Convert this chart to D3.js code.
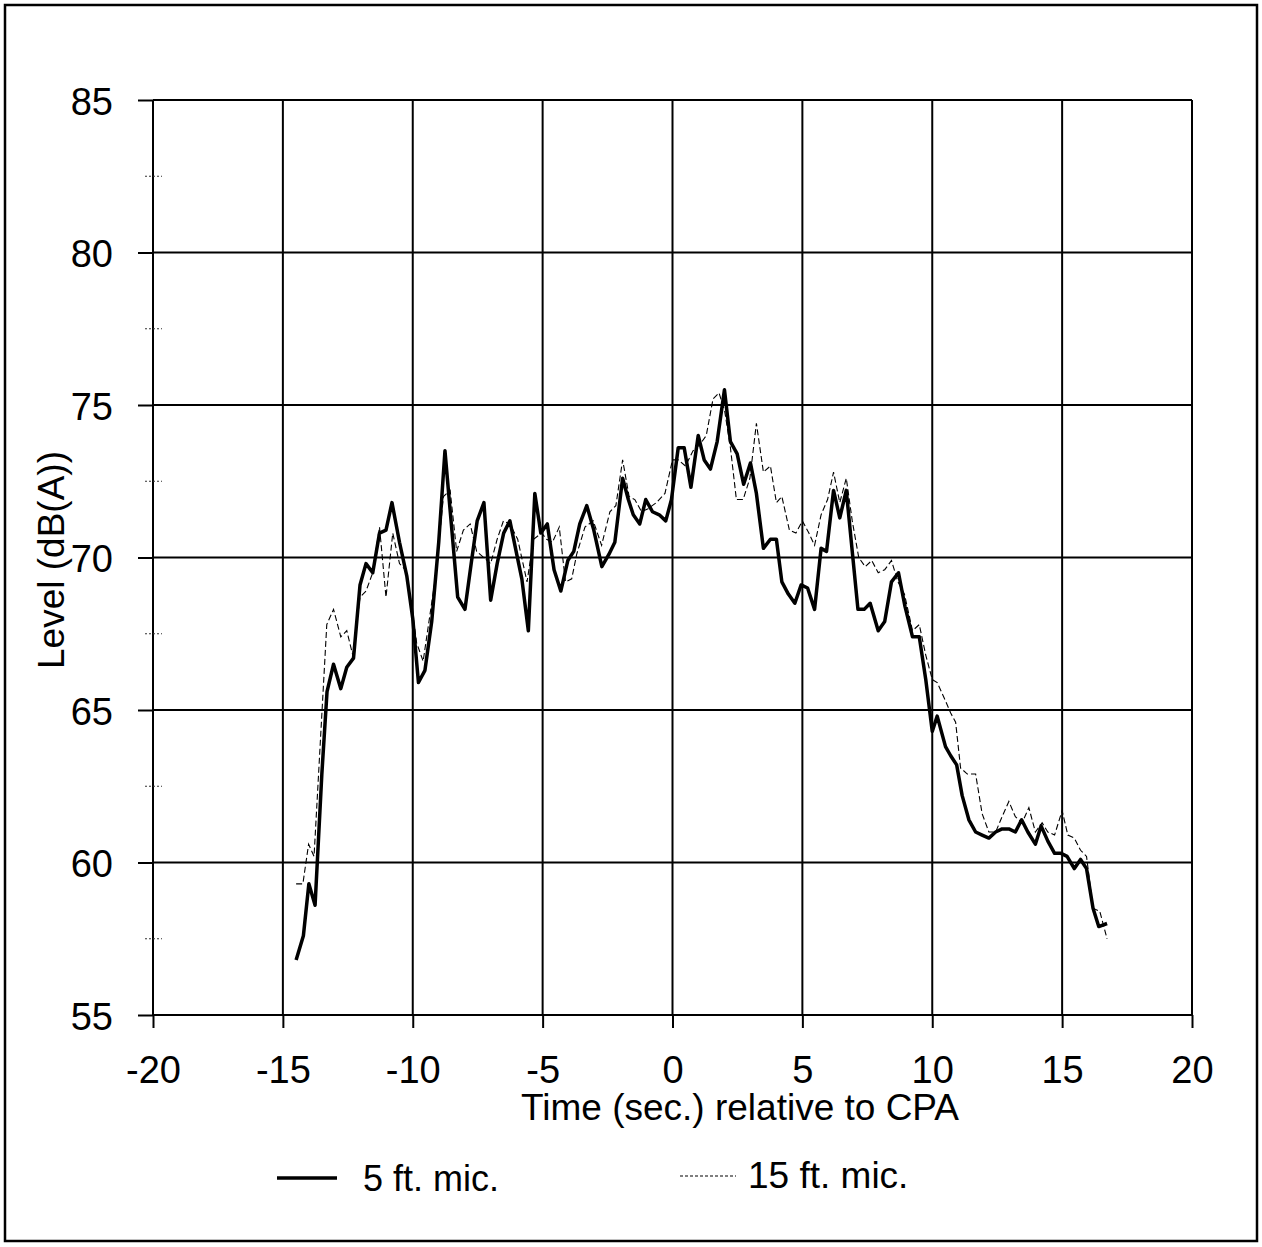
<!DOCTYPE html>
<html>
<head>
<meta charset="utf-8">
<script src="https://cdn.jsdelivr.net/npm/d3@7"></script>
<style>
    body { margin: 0; background: #fff; }
    text { font-family: "Liberation Sans", Arial, sans-serif; fill: #000; }
</style>
</head>
<body>
<script>
// 5 ft. mic. (solid)
const time5 = [-14.49, -14.21, -14.0, -13.76, -13.5, -13.3, -13.05, -12.77, -12.54, -12.28,
    -12.03, -11.8, -11.54, -11.28, -11.03, -10.8, -10.51, -10.23, -10.0, -9.78,
    -9.53, -9.27, -9.0, -8.76, -8.27, -7.99, -7.75, -7.52, -7.26, -7.0,
    -6.75, -6.5, -6.26, -6.02, -5.8, -5.55, -5.3, -5.07, -4.82, -4.56,
    -4.3, -4.03, -3.8, -3.57, -3.3, -3.03, -2.72, -2.45, -2.22, -1.92,
    -1.7, -1.51, -1.26, -1.03, -0.77, -0.51, -0.26, -0.04, 0.22, 0.45,
    0.71, 0.99, 1.22, 1.46, 1.72, 2.0, 2.23, 2.49, 2.74, 3.0,
    3.23, 3.5, 3.77, 4.0, 4.21, 4.46, 4.71, 4.95, 5.2, 5.47,
    5.72, 5.93, 6.2, 6.44, 6.69, 6.92, 7.14, 7.38, 7.61, 7.92,
    8.17, 8.43, 8.7, 8.95, 9.24, 9.5, 9.75, 10.0, 10.19, 10.51,
    10.71, 10.94, 11.15, 11.41, 11.67, 11.92, 12.18, 12.44, 12.69, 12.95,
    13.2, 13.44, 13.68, 13.97, 14.19, 14.45, 14.71, 14.96, 15.19, 15.47,
    15.71, 15.94, 16.19, 16.41, 16.73];
const level5 = [56.8, 57.6, 59.3, 58.6, 62.9, 65.6, 66.5, 65.7, 66.4, 66.7,
    69.1, 69.8, 69.5, 70.8, 70.9, 71.8, 70.5, 69.4, 68.0, 65.9,
    66.3, 67.9, 70.5, 73.5, 68.7, 68.3, 69.8, 71.2, 71.8, 68.6,
    69.8, 70.8, 71.2, 70.2, 69.3, 67.6, 72.1, 70.8, 71.1, 69.6,
    68.9, 69.9, 70.2, 71.1, 71.7, 70.9, 69.7, 70.1, 70.5, 72.6,
    71.9, 71.4, 71.1, 71.9, 71.5, 71.4, 71.2, 71.9, 73.6, 73.6,
    72.3, 74.0, 73.2, 72.9, 73.8, 75.5, 73.8, 73.4, 72.4, 73.1,
    72.1, 70.3, 70.6, 70.6, 69.2, 68.8, 68.5, 69.1, 69.0, 68.3,
    70.3, 70.2, 72.2, 71.3, 72.2, 70.2, 68.3, 68.3, 68.5, 67.6,
    67.9, 69.2, 69.5, 68.4, 67.4, 67.4, 66.0, 64.3, 64.8, 63.8,
    63.5, 63.2, 62.2, 61.4, 61.0, 60.9, 60.8, 61.0, 61.1, 61.1,
    61.0, 61.4, 61.0, 60.6, 61.2, 60.7, 60.3, 60.3, 60.2, 59.8,
    60.1, 59.8, 58.5, 57.9, 58.0];

// 15 ft. mic. (dashed)
const time15 = [-14.49, -14.23, -14.01, -13.8, -13.31, -13.05, -12.77, -12.54, -12.31, -12.03,
    -11.8, -11.54, -11.28, -11.03, -10.77, -10.51, -10.29, -10.05, -9.85, -9.6,
    -9.1, -8.82, -8.56, -8.31, -8.05, -7.79, -7.54, -7.27, -7.0, -6.75,
    -6.51, -6.26, -5.96, -5.6, -5.35, -5.04, -4.85, -4.62, -4.36, -4.12,
    -3.88, -3.69, -3.37, -3.05, -2.73, -2.41, -2.18, -1.92, -1.67, -1.45,
    -1.19, -0.94, -0.62, -0.29, 0.0, 0.22, 0.5, 0.79, 1.05, 1.3,
    1.56, 1.79, 2.01, 2.23, 2.46, 2.72, 2.98, 3.23, 3.5, 3.77,
    4.0, 4.21, 4.5, 4.75, 5.0, 5.25, 5.47, 5.72, 5.97, 6.2,
    6.44, 6.69, 6.92, 7.17, 7.42, 7.67, 7.92, 8.17, 8.43, 8.68,
    8.93, 9.24, 9.5, 9.75, 10.0, 10.19, 10.51, 10.71, 10.9, 11.09,
    11.35, 11.67, 11.92, 12.18, 12.44, 12.69, 12.95, 13.2, 13.46, 13.72,
    13.97, 14.23, 14.45, 14.71, 15.0, 15.22, 15.47, 15.71, 15.94, 16.19,
    16.45, 16.73];
const level15 = [59.3, 59.3, 60.6, 60.2, 67.8, 68.3, 67.4, 67.6, 66.8, 68.7,
    68.9, 69.5, 71.0, 68.7, 70.8, 69.8, 69.6, 68.5, 67.2, 66.6,
    69.5, 72.0, 72.2, 70.2, 70.9, 71.1, 70.2, 70.0, 69.8, 70.6,
    71.2, 71.1, 70.6, 69.2, 70.6, 70.8, 70.6, 70.5, 71.0, 69.2,
    69.3, 70.1, 71.0, 71.2, 70.4, 71.5, 71.7, 73.2, 72.0, 71.9,
    71.5, 71.6, 71.8, 72.1, 73.2, 73.2, 73.0, 73.5, 73.7, 74.0,
    75.2, 75.4, 74.8, 73.6, 71.9, 71.9, 72.6, 74.4, 72.8, 73.0,
    71.8, 72.0, 70.9, 70.8, 71.2, 70.8, 70.4, 71.4, 71.9, 72.8,
    71.8, 72.6, 71.2, 70.0, 69.7, 69.9, 69.5, 69.6, 69.9, 69.2,
    68.8, 67.6, 67.8, 66.8, 66.0, 65.9, 65.3, 64.9, 64.6, 63.1,
    62.9, 62.9, 61.6, 61.0, 61.0, 61.5, 62.0, 61.5, 61.3, 61.8,
    61.0, 61.3, 61.0, 60.9, 61.7, 60.9, 60.8, 60.4, 60.2, 58.5,
    58.4, 57.5];

const xTicks = [-20, -15, -10, -5, 0, 5, 10, 15, 20];
const yTicks = [55, 60, 65, 70, 75, 80, 85];
const yMinor = [57.5, 62.5, 67.5, 72.5, 77.5, 82.5];

const svgWidth = 1262;
const svgHeight = 1247;
const plotLeft = 153, plotRight = 1192, plotTop = 100, plotBottom = 1015;

const svg = d3.select("body").append("svg")
    .attr("width", svgWidth)
    .attr("height", svgHeight);

svg.append("rect")
    .attr("width", "100%")
    .attr("height", "100%")
    .attr("fill", "#fff");

// outer frame
svg.append("rect")
    .attr("x", 5).attr("y", 5)
    .attr("width", 1252).attr("height", 1236)
    .attr("fill", "none")
    .attr("stroke", "#000")
    .attr("stroke-width", 2.5);

const x = d3.scaleLinear().domain([-20, 20]).range([plotLeft, plotRight]);
const y = d3.scaleLinear().domain([55, 85]).range([plotBottom, plotTop]);

// grid lines
svg.append("g")
    .selectAll("line")
    .data(xTicks)
    .join("line")
    .attr("x1", d => x(d)).attr("x2", d => x(d))
    .attr("y1", plotTop).attr("y2", plotBottom)
    .attr("stroke", "#000")
    .attr("stroke-width", 2);

svg.append("g")
    .selectAll("line")
    .data(yTicks)
    .join("line")
    .attr("x1", plotLeft).attr("x2", plotRight)
    .attr("y1", d => y(d)).attr("y2", d => y(d))
    .attr("stroke", "#000")
    .attr("stroke-width", 2);

// axes (ticks stick out of the frame), plain hyphen for negatives
const xAxis = svg.append("g")
    .attr("transform", `translate(0,${plotBottom})`)
    .call(d3.axisBottom(x).tickValues(xTicks).tickSize(13).tickPadding(28).tickFormat(d => String(d)));

const yAxis = svg.append("g")
    .attr("transform", `translate(${plotLeft},0)`)
    .call(d3.axisLeft(y).tickValues(yTicks).tickSize(15).tickPadding(25).tickFormat(d => String(d)));

[xAxis, yAxis].forEach(function (axis) {
    axis.select(".domain").remove();
    axis.selectAll("line").attr("stroke", "#000").attr("stroke-width", 2);
    axis.selectAll("text")
        .attr("font-family", '"Liberation Sans", Arial, sans-serif')
        .attr("font-size", 38)
        .attr("fill", "#000");
});
xAxis.selectAll("text").attr("dy", "0").attr("y", 68);
yAxis.selectAll("text").attr("dy", "0.38em");

// little minor marks on the left axis
svg.append("g")
    .selectAll("line")
    .data(yMinor)
    .join("line")
    .attr("x1", plotLeft - 8).attr("x2", plotLeft + 9)
    .attr("y1", d => y(d)).attr("y2", d => y(d))
    .attr("stroke", "#333")
    .attr("stroke-width", 1.2)
    .attr("stroke-dasharray", "2,2");

// data lines
const line = d3.line()
    .x(d => x(d[0]))
    .y(d => y(d[1]));

svg.append("path")
    .datum(d3.zip(time15, level15))
    .attr("d", line)
    .attr("fill", "none")
    .attr("stroke", "#000")
    .attr("stroke-width", 1.1)
    .attr("stroke-dasharray", "6,3");

svg.append("path")
    .datum(d3.zip(time5, level5))
    .attr("d", line)
    .attr("fill", "none")
    .attr("stroke", "#000")
    .attr("stroke-width", 3.5)
    .attr("stroke-linejoin", "round");

// axis titles
svg.append("text")
    .attr("x", 740)
    .attr("y", 1120)
    .attr("text-anchor", "middle")
    .attr("font-size", 37)
    .text("Time (sec.) relative to CPA");

svg.append("text")
    .attr("transform", "translate(64,560) rotate(-90)")
    .attr("text-anchor", "middle")
    .attr("font-size", 37)
    .text("Level (dB(A))");

// legend
const legend = svg.append("g");

legend.append("line")
    .attr("x1", 277).attr("x2", 337)
    .attr("y1", 1178).attr("y2", 1178)
    .attr("stroke", "#000")
    .attr("stroke-width", 3.5);

legend.append("text")
    .attr("x", 363).attr("y", 1191)
    .attr("font-size", 36)
    .text("5 ft. mic.");

legend.append("line")
    .attr("x1", 680).attr("x2", 736)
    .attr("y1", 1176).attr("y2", 1176)
    .attr("stroke", "#000")
    .attr("stroke-width", 1.1)
    .attr("stroke-dasharray", "3,2");

legend.append("text")
    .attr("x", 748).attr("y", 1188)
    .attr("font-size", 37)
    .text("15 ft. mic.");
</script>
</body>
</html>
